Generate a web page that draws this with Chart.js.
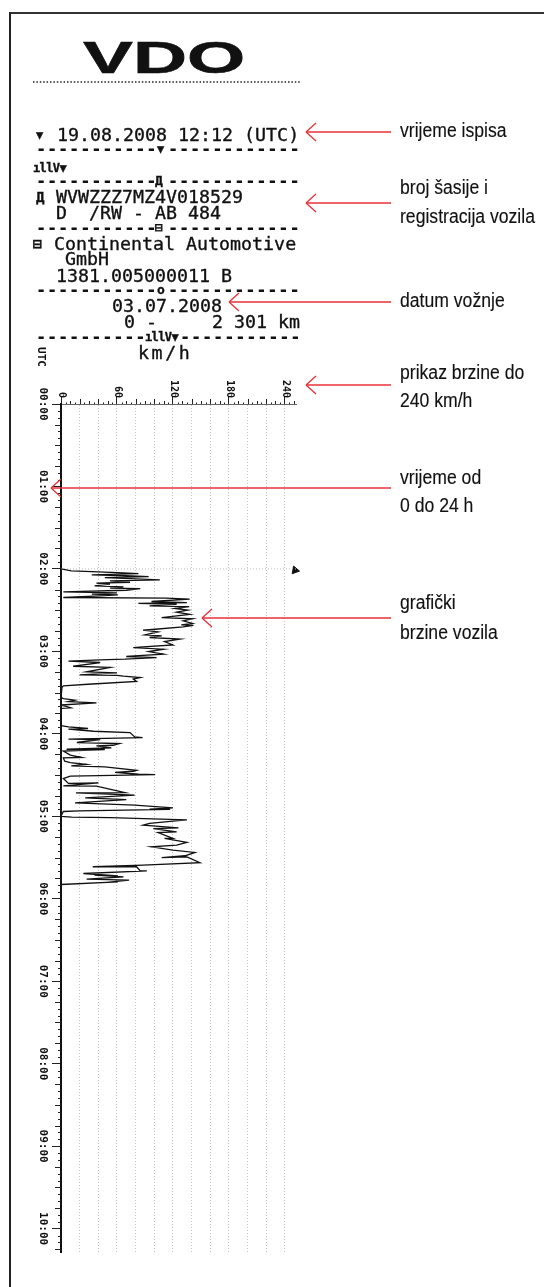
<!DOCTYPE html>
<html><head><meta charset="utf-8">
<style>
html,body{margin:0;padding:0;background:#fff}
#page{position:relative;width:544px;height:1287px;overflow:hidden;background:#fff}
#frame{position:absolute;left:9px;top:12px;width:535px;height:1275px;border-left:2px solid #222;border-top:2px solid #333;pointer-events:none}
canvas{position:absolute;left:0;top:0}
svg{position:absolute;left:0;top:0}
.p{position:absolute;font-family:"DejaVu Sans Mono",monospace;font-size:18.3px;line-height:18px;white-space:pre;color:#111;transform:translateY(-50%);-webkit-text-stroke:.35px #111}
.n{position:absolute;font-family:"Liberation Sans Narrow","Liberation Sans",sans-serif;font-size:20px;line-height:22px;white-space:pre;color:#111;transform-origin:0 50%;transform:translateY(-50%) scaleX(.88);-webkit-text-stroke:.15px #111}
</style></head><body>
<div id="page">
<canvas id="c" width="544" height="1287"></canvas>
<div id="texts"></div>
<svg width="544" height="1287" id="ann"></svg>
<div id="frame"></div>
</div>
<script src="https://cdn.jsdelivr.net/npm/chart.js@4/dist/chart.umd.min.js"></script>
<script>
// ---- data ----
const traceSpeed = [0,11,33,61,83,33,63,94,47,74,106,52.5,74,38,52.5,36,67,52.5,85,70,2.5,60,33,61,42,2.5,113,138,97,135,83,124,95,137.5,122,136,124,138,108,141,131,141,129,142,131,101,88,104,90,108,95,127.5,111,120,88,77.5,110,94,110,70,102.5,68.5,42,8,42,13,52.5,27.5,60,20,60,67,85,77.5,81,29,2.5,1,0,0,2.5,15,8,38,0,10.4,0,0,
8,29,8,35,74,79,87.5,8,42,17,62.5,56,38,54,6,47,2.5,10,22,2.5,4,10,27.5,11,47,81,77.5,58,83,101,10,2.5,8,40,2.5,38,68.5,16,79,26,70,15,79,120,95,117,20,2.5,0,
11.4,52.5,135,120,95,88,126,99,124,104,120,111,135,124,97,120,143.5,133,108,135,149,88,34,81,85,92,24,61,36,67,27.5,73,49,61,0];
const traceMinute = [120,121.4,121.9,122.7,123.4,124.4,124.8,125.6,126.3,127,128,128.7,129.7,130.4,131.1,132.4,133.1,134,134.3,135.5,136.7,137.4,138.4,138.9,139.6,140.8,141.3,142,143.7,144.5,145,145.7,146.9,147.4,148.8,150,151.5,153,155.4,156.3,157.8,159.7,160.7,161,162.2,163.9,164.6,165.8,168,168.7,169.9,171.1,172.8,175.3,176.7,177.2,178.4,180.1,182,183.7,184.5,185.7,186.2,187.1,188.1,190.8,191.7,194.9,195.6,197.1,197.5,198,199,200.2,201.9,203.9,205.1,206.3,207,213.5,214.3,215.5,216.5,217.5,219,221,221.5,234,
234.9,236.1,236.6,238.1,239.1,242.2,242.7,243.9,244.1,246.3,247.1,248.3,248.8,250.2,251.2,251.4,252.6,255.5,257.2,257.5,259.9,260.9,262.3,263.3,264,266.5,267.2,268.1,269.4,269.6,270.8,272.5,276.1,275.7,277.8,278.1,282.7,282.9,284.6,286.6,287.8,290.2,291.9,293.8,294.8,295,296,296.5,300,
300.6,301,302.6,303.5,305.2,306.5,308.4,308.9,311.3,311.8,316.1,316.1,319,321,322.2,324.6,326.3,328.7,330,329.5,333.8,335.5,336.7,336.7,339.7,339.7,341.6,343.3,342.8,344,345.7,346.4,348.1,347.7,349.6];
const midnightLineSpeed = [0,252];
const midnightLineMinute = [120,120];
const markerSpeed = [251];
const markerMinute = [121];
const speedTicks = [0,5,10,15,20,25,30,35,40,45,50,55,60,65,70,75,80,85,90,95,100,105,110,115,120,125,130,135,140,145,150,155,160,165,170,175,180,185,190,195,200,205,210,215,220,225,230,235,240,245,250];
const speedLabels = {0:'  0',60:' 60',120:'120',180:'180',240:'240'};
const hourTicks = [0,60,120,180,240,300,360,420,480,540,600];
const hourLabels = ['00:00','01:00','02:00','03:00','04:00','05:00','06:00','07:00','08:00','09:00','10:00'];
const minuteMinor = [];
for (let m=0;m<=615;m+=5) minuteMinor.push(m);

// ---- printout text and notes ----
const DASH_STYLE='font-weight:bold;letter-spacing:.8px;font-size:17px;-webkit-text-stroke:0';
const ICON_STYLE='font-size:12px;font-weight:bold;letter-spacing:-.6px';
const L11='-----------', R12='------------';
const printLines = [
 ['▼',36,135,'font-size:12px'],
 ['19.08.2008 12:12 (UTC)',57,135],
 [L11,36,149,DASH_STYLE],['▼',157,149,'font-size:12px'],[R12,168,149,DASH_STYLE],
 ['ıllV▼',33,168,ICON_STYLE],
 [L11,36,181,DASH_STYLE],['Д',155,181,'font-size:13px;font-weight:bold'],[R12,168,181,DASH_STYLE],
 ['Д',36,197,'font-size:14px;font-weight:bold'],
 ['WVWZZZ7MZ4V018529',56,197],
 ['D  /RW - AB 484',56,213],
 [L11,36,228,DASH_STYLE],['⊟',155,228,'font-size:13px;font-weight:bold'],[R12,168,228,DASH_STYLE],
 ['⊟',33,244,'font-weight:bold;font-size:15px'],
 ['Continental Automotive',54,244],
 ['GmbH',65,259],
 ['1381.005000011 B',56,276],
 [L11,36,290,DASH_STYLE],['o',157,290,'font-size:13px;font-weight:bold'],[R12,168,290,DASH_STYLE],
 ['03.07.2008',112,306],
 ['0 -     2 301 km',124,322],
 ['----------',36,337,DASH_STYLE],
 ['ıllV▼',145,337,ICON_STYLE],
 [L11,180,337,DASH_STYLE],
 ['km/h',138,353,'letter-spacing:2.6px']
];
const noteLines = [
 ['vrijeme ispisa',400,130],
 ['broj šasije i',400,187],
 ['registracija vozila',400,216],
 ['datum vožnje',400,300],
 ['prikaz brzine do',400,372],
 ['240 km/h',400,400],
 ['vrijeme od',400,477],
 ['0 do 24 h',400,505],
 ['grafički',400,602],
 ['brzine vozila',400,632]
];
const arrowTips = [[306,132],[306,203],[229,302],[306,385],[51,488],[202,618]];
const arrowEnd = 391;

const tx=document.getElementById('texts');
function add(cls,[t,x,y,st]){const d=document.createElement('div');d.className=cls;d.textContent=t;d.style.left=x+'px';d.style.top=y+'px';if(st)d.style.cssText+=';'+st;tx.appendChild(d);}
printLines.forEach(l=>add('p',l));
noteLines.forEach(l=>add('n',l));
// VDO logo, UTC
const vdo=document.createElement('div');vdo.textContent='VDO';
vdo.style.cssText='position:absolute;left:83px;top:36px;font:bold 43.5px/44px "Liberation Sans",sans-serif;color:#111;transform-origin:0 0;transform:scaleX(1.72);white-space:pre;-webkit-text-stroke:.6px #111';
tx.appendChild(vdo);
const utc=document.createElement('div');utc.textContent='UTC';
utc.style.cssText='position:absolute;left:41px;top:357px;font:bold 11px/11px "DejaVu Sans Mono",monospace;color:#111;transform:translate(-50%,-50%) rotate(90deg);white-space:pre';
tx.appendChild(utc);

const svgNS='http://www.w3.org/2000/svg', svg=document.getElementById('ann');
function ln(x1,y1,x2,y2,c,w,d){const l=document.createElementNS(svgNS,'line');for(const [k,v] of Object.entries({x1,y1,x2,y2,stroke:c,'stroke-width':w}))l.setAttribute(k,v);if(d)l.setAttribute('stroke-dasharray',d);svg.appendChild(l);}
arrowTips.forEach(([x,y])=>{
  ln(x,y,arrowEnd,y,'#e8303a',1.4);
  ln(x,y,x+10,y-9,'#e8303a',1.3);
  ln(x,y,x+10,y+9,'#e8303a',1.3);
});
ln(33,82,300,82,'#222',1.6,'1.5 1.9');

const AX=61, TOP=404;
const tickPlugin={id:'minorTicks',afterDatasetsDraw(ch){
  const c=ch.ctx,sx=ch.scales.x,sy=ch.scales.y;
  c.save();c.strokeStyle='#222';c.lineWidth=1;c.beginPath();
  minuteMinor.forEach(m=>{ if(m%60===0)return;
    const p=Math.round(sy.getPixelForValue(m))+.5; const len=m%15===0?6:3;
    c.moveTo(AX-len,p);c.lineTo(AX,p);});
  speedTicks.forEach(v=>{ if(v%60===0)return;
    const p=Math.round(sx.getPixelForValue(v))+.5; const len=v%20===0?5:(v%10===0?3:1.5);
    c.moveTo(p,TOP);c.lineTo(p,TOP-len);});
  c.stroke();c.restore();
}};

new Chart(document.getElementById('c'),{
 type:'scatter',
 plugins:[tickPlugin],
 data:{datasets:[
  {label:'brzina',data:traceSpeed.map((v,i)=>({x:v,y:traceMinute[i]})),showLine:true,borderColor:'#111',borderWidth:1.3,pointRadius:0,tension:0},
  {label:'start',data:midnightLineSpeed.map((v,i)=>({x:v,y:midnightLineMinute[i]})),showLine:true,borderColor:'#bbb',borderWidth:1,borderDash:[1,2],pointRadius:0},
  {label:'oznaka',data:markerSpeed.map((v,i)=>({x:v,y:markerMinute[i]})),showLine:false,pointStyle:'triangle',pointRadius:4.5,pointRotation:100,backgroundColor:'#111',borderColor:'#111',clip:false}
 ]},
 options:{
  responsive:false,animation:false,
  layout:{padding:{left:0,top:0,right:248,bottom:35}},
  plugins:{legend:{display:false},tooltip:{enabled:false},title:{display:false}},
  scales:{
   x:{type:'linear',position:'top',min:0,max:252,
    afterFit(s){s.height=TOP;},
    afterBuildTicks(s){s.ticks=speedTicks.map(v=>({value:v}));},
    border:{display:true,color:'#666',width:1,dash:[1,2]},
    grid:{display:true,drawOnChartArea:true,drawTicks:true,tickLength:8,
      color:c=>(c.tick&&c.tick.value%20===0&&c.tick.value!==0)?'#c4c4c4':'rgba(0,0,0,0)',
      tickColor:c=>(c.tick&&c.tick.value%60===0)?'#222':'rgba(0,0,0,0)',
      lineWidth:1,tickBorderDash:[]},
    ticks:{autoSkip:false,minRotation:-90,maxRotation:-90,padding:16,labelOffset:-11,color:'#111',
      font:{family:'"DejaVu Sans Mono",monospace',size:10,weight:'bold'},
      callback:v=>speedLabels[v]||''}
   },
   y:{type:'linear',position:'left',reverse:true,min:0,max:617,
    afterFit(s){s.width=AX;},
    afterBuildTicks(s){s.ticks=hourTicks.map(v=>({value:v}));},
    border:{display:true,color:'#111',width:2},
    grid:{display:true,drawOnChartArea:false,drawTicks:true,tickLength:9,tickColor:'#222'},
    ticks:{autoSkip:false,minRotation:-90,maxRotation:-90,crossAlign:'center',padding:-7,color:'#111',
      font:{family:'"DejaVu Sans Mono",monospace',size:11,weight:'bold'},
      callback:v=>hourLabels[hourTicks.indexOf(v)]}
   }
  }
 }
});
</script>
</body></html>
